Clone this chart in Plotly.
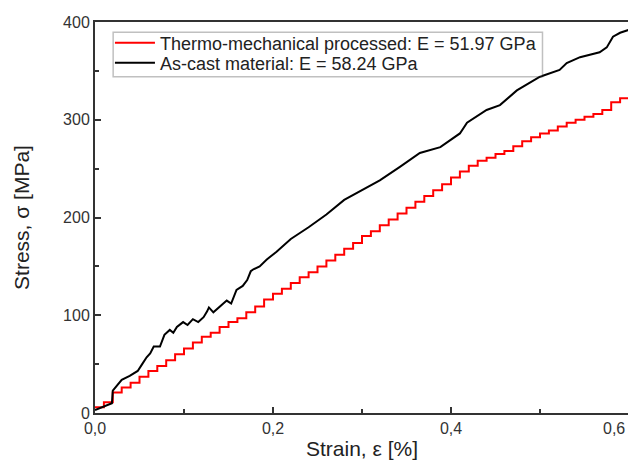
import plotly.graph_objects as go

# Thermo-mechanical processed (red), stepped curve
tm_strain = [0.00, 0.01, 0.02, 0.03, 0.04, 0.05, 0.06, 0.07, 0.08, 0.09,
             0.10, 0.11, 0.12, 0.13, 0.14, 0.15, 0.16, 0.17, 0.18, 0.19,
             0.20, 0.21, 0.22, 0.23, 0.24, 0.25, 0.26, 0.27, 0.28, 0.29,
             0.30, 0.31, 0.32, 0.33, 0.34, 0.35, 0.36, 0.37, 0.38, 0.39,
             0.40, 0.41, 0.42, 0.43, 0.44, 0.45, 0.46, 0.47, 0.48, 0.49,
             0.50, 0.51, 0.52, 0.53, 0.54, 0.55, 0.56, 0.57, 0.58, 0.59, 0.60]
tm_stress = [6, 11, 21, 26, 31, 37, 43, 48, 54, 60,
             66, 72, 78, 82, 88, 93, 97, 103, 109, 116,
             122, 127, 133, 139, 144, 150, 156, 162, 168, 174,
             181, 186, 192, 198, 204, 210, 216, 222, 228, 234,
             241, 247, 253, 258, 261, 265, 268, 273, 278, 282,
             286, 289, 293, 297, 300, 303, 306, 310, 318, 322, 318]

# As-cast material (black)
ac_strain = [0.0, 0.019, 0.02, 0.03, 0.039, 0.048, 0.053, 0.058, 0.062, 0.066,
             0.073, 0.078, 0.084, 0.088, 0.092, 0.099, 0.104, 0.11, 0.116, 0.122,
             0.126, 0.128, 0.133, 0.142, 0.148, 0.153, 0.159, 0.166, 0.171, 0.175,
             0.178, 0.185, 0.193, 0.204, 0.22, 0.24, 0.26, 0.28, 0.3, 0.32,
             0.343, 0.365, 0.388, 0.41, 0.418, 0.44, 0.455, 0.474, 0.5, 0.522,
             0.53, 0.545, 0.567, 0.575, 0.582, 0.59, 0.6]
ac_stress = [3, 10, 23, 34, 38, 43, 50, 57, 61, 68,
             68, 80, 85, 82, 88, 93, 90, 96, 93, 98,
             104, 108, 103, 110, 115, 112, 126, 130, 136, 145,
             147, 150, 157, 165, 178, 190, 203, 218, 228, 238,
             252, 266, 272, 286, 297, 310, 315, 330, 344, 351,
             358, 364, 369, 374, 385, 389, 392]

x_ticks = [0, 0.2, 0.4, 0.6]
x_ticklabels = ["0,0", "0,2", "0,4", ""]   # last one drawn as annotation so it stays on the page

fig = go.Figure()
fig.add_trace(go.Scatter(x=tm_strain, y=tm_stress, mode="lines", line_shape="hv",
                         name="Thermo-mechanical processed: E = 51.97 GPa",
                         line=dict(color="#ff0000", width=2),
                         legend="legend", showlegend=True))
fig.add_trace(go.Scatter(x=ac_strain, y=ac_stress, mode="lines",
                         name="As-cast material: E = 58.24 GPa",
                         line=dict(color="#000000", width=2),
                         legend="legend2", showlegend=True))

axis_style = dict(showline=True, linecolor="#333333", linewidth=2, mirror=True,
                  ticks="inside", tickcolor="#333333", tickwidth=1.5, ticklen=6,
                  showgrid=False, zeroline=False, automargin=False,
                  tickfont=dict(size=16, color="#333333"),
                  title_font=dict(size=21, color="#222222"))

fig.update_xaxes(range=[0, 0.6], tickvals=x_ticks, ticktext=x_ticklabels,
                 minor=dict(tickvals=[0.1, 0.3, 0.5], ticks="inside", ticklen=4,
                            tickcolor="#333333"),
                 title_text="Strain, ε [%]", title_standoff=5, **axis_style)
fig.update_yaxes(range=[0, 400], dtick=100,
                 minor=dict(dtick=50, ticks="inside", ticklen=4, tickcolor="#333333"),
                 title_text="Stress, σ [MPa]", title_standoff=28, **axis_style)

fig.add_annotation(x=0.6, y=0, xref="x", yref="y", text="0,6", showarrow=False,
                   xanchor="right", yanchor="top", xshift=-2, yshift=-5,
                   font=dict(size=16, color="#333333"))

# one box around both legend rows
fig.add_shape(type="rect", xref="paper", yref="paper",
              x0=0.034, x1=0.838, y0=0.86, y1=0.974,
              line=dict(color="#333333", width=1.5), fillcolor="white", layer="above")

leg = dict(x=0.028, xanchor="left", yanchor="middle", bgcolor="rgba(0,0,0,0)",
           borderwidth=0, font=dict(size=18, color="#222222"), itemwidth=40)

fig.update_layout(width=628, height=454, template="simple_white",
                  font=dict(family="Liberation Sans, Arial", color="#222222"),
                  margin=dict(l=87, r=7, t=14, b=49),
                  plot_bgcolor="white", paper_bgcolor="white",
                  showlegend=True,
                  legend=dict(y=0.946, **leg),
                  legend2=dict(y=0.895, **leg))

fig.write_html("out.html")
